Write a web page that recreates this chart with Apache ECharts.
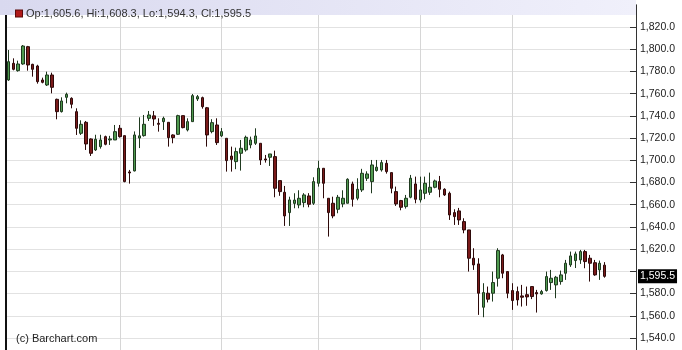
<!DOCTYPE html>
<html>
<head>
<meta charset="utf-8">
<script src="https://cdn.jsdelivr.net/npm/echarts@6/dist/echarts.min.js"></script>
<style>html,body{margin:0;padding:0;background:#fff}#c{width:682px;height:350px}</style>
</head>
<body>
<div id="c"></div>
<script>
// Daily OHLC values (oldest -> newest)
const openV = [1772.3,1787.3,1780.7,1786.7,1802.3,1786.4,1784.9,1772.3,1767.8,1776.8,
1754.9,1743.8,1756.7,1755.8,1743.8,1724.3,1734.2,1719.2,1709.3,1712.3,
1721.3,1718.3,1718.3,1728.8,1722.2,1689.5,1690.4,1720.0,1722.2,1737.8,
1740.0,1733.3,1734.8,1734.2,1722.8,1723.4,1740.2,1727.3,1734.8,1755.2,
1756.4,1747.3,1725.8,1731.8,1722.0,1719.8,1703.8,1698.8,1706.3,1709.3,
1713.8,1715.3,1715.3,1701.2,1702.7,1703.3,1681.7,1671.2,1652.9,1661.2,
1659.8,1661.9,1667.9,1661.3,1679.3,1692.8,1665.8,1661.3,1655.9,1660.7,
1661.3,1678.7,1665.8,1673.3,1683.8,1680.8,1690.8,1691.3,1697.3,1688.9,
1671.8,1663.7,1658.3,1666.7,1678.7,1664.3,1670.3,1671.2,1675.7,1680.8,
1673.9,1670.3,1652.9,1654.4,1644.8,1637.3,1611.8,1606.7,1567.7,1580.3,
1580.3,1593.8,1614.8,1599.8,1582.7,1581.8,1577.9,1579.0,1586.3,1580.9,
1579.7,1582.7,1589.9,1587.8,1590.8,1598.3,1605.8,1609.7,1610.3,1617.8,
1611.8,1607.8,1601.3,1605.6];
const closeV = [1788.8,1781.9,1786.7,1802.9,1785.8,1781.9,1770.8,1770.2,1776.8,1765.7,
1743.8,1753.4,1759.4,1750.4,1728.8,1732.4,1714.7,1706.3,1718.9,1718.3,
1714.4,1719.2,1725.8,1721.3,1680.8,1688.6,1722.8,1722.0,1732.4,1740.8,
1737.2,1732.4,1737.8,1720.4,1720.4,1740.2,1729.4,1734.8,1758.2,1757.3,
1748.3,1722.8,1733.9,1715.9,1725.8,1699.7,1700.8,1707.8,1710.8,1720.7,
1718.3,1721.9,1700.3,1700.3,1705.7,1674.8,1671.8,1649.9,1664.3,1664.2,
1665.8,1668.8,1660.4,1680.8,1692.8,1679.3,1652.9,1649.9,1666.7,1665.8,
1682.9,1664.9,1673.9,1688.3,1687.7,1695.8,1693.8,1697.9,1689.8,1674.8,
1660.7,1657.7,1665.8,1683.8,1664.9,1673.3,1679.3,1675.7,1681.4,1673.9,
1668.8,1650.8,1649.3,1646.3,1637.3,1611.8,1605.8,1580.3,1580.9,1574.9,
1589.9,1618.7,1598.3,1580.3,1573.7,1574.3,1576.7,1577.0,1577.3,1579.7,
1581.8,1595.3,1593.8,1594.7,1596.8,1607.3,1613.9,1615.7,1617.8,1608.8,
1607.3,1596.8,1607.3,1595.5];
const lowV = [1771.5,1781.0,1779.8,1786.0,1780.7,1775.3,1769.0,1769.3,1766.9,1760.3,
1736.9,1743.0,1751.3,1746.8,1722.8,1722.8,1709.3,1703.9,1708.4,1710.5,
1713.5,1713.8,1718.3,1720.4,1680.2,1679.0,1690.0,1711.0,1721.3,1735.4,
1731.0,1725.8,1727.3,1712.3,1715.3,1722.8,1728.8,1726.0,1734.8,1753.4,
1746.5,1712.3,1724.3,1713.8,1721.0,1689.8,1689.8,1692.0,1690.7,1707.8,
1710.8,1713.8,1695.8,1697.9,1694.9,1666.7,1668.0,1640.9,1640.9,1656.8,
1656.8,1657.7,1657.7,1659.8,1676.3,1665.8,1631.3,1647.8,1652.3,1657.7,
1661.3,1658.3,1664.0,1671.5,1681.4,1670.3,1689.8,1689.8,1688.0,1670.3,
1658.9,1655.0,1656.5,1665.8,1661.3,1662.0,1665.0,1668.8,1674.8,1666.7,
1667.9,1646.3,1641.8,1641.8,1634.3,1599.8,1601.3,1560.8,1558.7,1572.0,
1572.8,1586.3,1593.8,1575.8,1565.3,1569.2,1568.3,1569.0,1575.0,1562.9,
1579.0,1581.8,1583.3,1575.8,1588.0,1592.3,1604.0,1603.0,1606.7,1602.8,
1590.8,1596.0,1592.3,1594.3];
const highV = [1799.3,1791.8,1789.7,1803.8,1803.0,1786.9,1786.0,1774.4,1779.8,1778.9,
1755.5,1756.7,1760.9,1756.7,1746.8,1736.0,1735.4,1719.8,1723.0,1723.0,
1722.2,1722.0,1731.8,1731.8,1722.2,1691.3,1726.0,1738.7,1740.8,1744.4,
1744.4,1737.8,1739.3,1734.2,1723.4,1741.0,1740.2,1737.8,1759.7,1758.8,
1757.3,1748.0,1737.0,1737.8,1729.0,1719.8,1712.3,1711.4,1718.3,1722.2,
1721.3,1728.8,1715.3,1704.8,1705.7,1708.7,1681.7,1676.9,1667.2,1670.3,
1673.0,1670.4,1670.4,1684.7,1699.6,1692.8,1665.8,1667.2,1668.8,1673.0,
1683.8,1680.8,1683.8,1692.3,1690.1,1700.3,1700.3,1700.3,1700.3,1688.9,
1676.3,1664.3,1668.8,1686.8,1685.3,1685.3,1685.3,1688.9,1682.6,1685.9,
1674.8,1671.8,1655.9,1657.1,1647.8,1637.3,1620.8,1611.8,1589.3,1586.3,
1599.8,1620.8,1615.7,1599.8,1589.3,1586.3,1587.8,1586.3,1586.3,1583.3,
1583.3,1599.8,1601.3,1595.9,1600.7,1610.3,1617.8,1617.8,1619.3,1619.3,
1614.8,1610.3,1609.7,1608.3];
// Category slots (trading days) incl. empty space on the right
const slotCount = 130;
// Indices of first trading day of each month (vertical grid lines)
const monthStarts = [23, 44, 64, 85, 104];
// Y axis tick settings
const yMin = 1520, yMax = 1840, yStep = 20;

const categories = [];
for (let i = 0; i < slotCount; i++) categories.push('d' + (i + 1));
const ohlc = openV.map((o, i) => [o, closeV[i], lowV[i], highV[i]]);
const last = ohlc.length - 1;
const lastClose = closeV[last];
const fmt = v => v.toLocaleString('en-US', {minimumFractionDigits: 1, maximumFractionDigits: 1});
const FONT = 'Liberation Sans';

const chart = echarts.init(document.getElementById('c'), null, {renderer: 'canvas'});
chart.setOption({
  animation: false,
  backgroundColor: '#fff',
  title: {
    left: 11, top: 3,
    text: '{sq|}{t|Op:' + fmt(openV[last]) + ', Hi:' + fmt(highV[last]) + ', Lo:' + fmt(lowV[last]) + ', Cl:' + fmt(closeV[last]) + '}',
    textStyle: {
      rich: {
        sq: {width: 6, height: 6, backgroundColor: '#b01a1a', borderColor: '#5a0a0a', borderWidth: 1},
        t: {fontFamily: FONT, fontSize: 11, fontWeight: 'normal', color: '#333', padding: [0, 0, 0, 4]}
      }
    },
    z: 20
  },
  graphic: [
    {type: 'rect', left: 0, top: 0, z: 10, silent: true,
     shape: {width: 636, height: 15},
     style: {fill: new echarts.graphic.LinearGradient(0, 0, 1, 0, [
       {offset: 0, color: '#d9d9ef'}, {offset: 1, color: '#f0f0fb'}])}},
    {type: 'text', left: 16, top: 333, z: 10, silent: true,
     style: {text: '(c) Barchart.com', fill: '#222', font: '11px "Liberation Sans"'}}
  ],
  grid: {left: 6, width: 630, top: 4.8, height: 355.4, containLabel: false, outerBoundsMode: 'none'},
  xAxis: {
    type: 'category', data: categories, boundaryGap: true,
    axisLine: {show: false}, axisTick: {show: false}, axisLabel: {show: false},
    splitLine: {
      show: true, alignWithLabel: true,
      interval: (idx) => monthStarts.indexOf(idx) >= 0,
      lineStyle: {color: '#d6d6d6', width: 1}
    }
  },
  yAxis: [{
    type: 'value', position: 'right', min: yMin, max: yMax, interval: yStep,
    axisLine: {show: true, lineStyle: {color: '#333', width: 1}},
    axisTick: {show: true, inside: true, length: 6, lineStyle: {color: '#333'}},
    axisLabel: {
      margin: 4, color: '#222', fontFamily: FONT, fontSize: 10.5,
      formatter: v => (v === yMin || v === yMax || Math.abs(v - lastClose) < 12) ? '' : fmt(v)
    },
    splitLine: {show: true, lineStyle: {color: '#e2e2e2', width: 1}}
  }, {
    type: 'value', position: 'left', min: yMin, max: yMax, interval: yStep,
    axisLine: {show: true, lineStyle: {color: '#111', width: 2}},
    axisTick: {show: false}, axisLabel: {show: false}, splitLine: {show: false}
  }],
  series: [{
    type: 'candlestick',
    data: ohlc,
    barWidth: 3,
    clip: false,
    itemStyle: {
      color: '#4f9a4f', color0: '#7a1a1a',
      borderColor: '#1f3a1f', borderColor0: '#2e0a0a', borderWidth: 1
    },
    markLine: {
      silent: true, symbol: ['none', 'none'], animation: false,
      lineStyle: {color: 'rgba(0,0,0,0)', width: 0, type: 'solid'},
      data: [{yAxis: lastClose}],
      label: {
        show: true, position: 'end', distance: 2,
        formatter: () => fmt(lastClose),
        backgroundColor: '#000', color: '#fff', fontFamily: FONT, fontSize: 10.5,
        padding: [2, 2, 1, 2]
      }
    }
  }]
});
</script>
</body>
</html>
